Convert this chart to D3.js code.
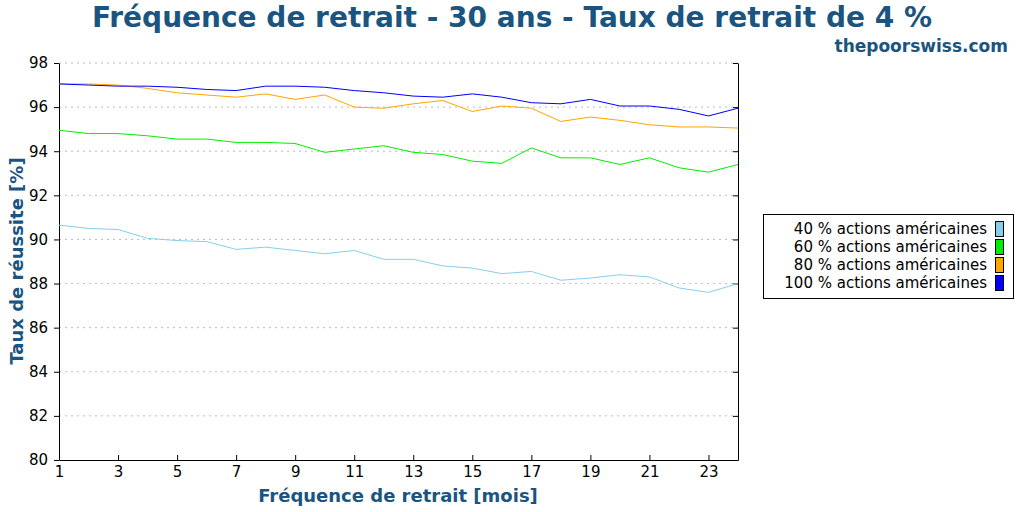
<!DOCTYPE html>
<html><head><meta charset="utf-8">
<script src="https://cdn.jsdelivr.net/npm/d3@7"></script>
<style>body{margin:0;background:#fff}text{font-family:"DejaVu Sans",sans-serif}</style>
</head><body><svg id="chart" width="1024" height="512"></svg>
<script>
const months = d3.range(1, 25);
const series40 = [90.65,90.5,90.45,90.05,89.95,89.9,89.55,89.65,89.5,89.35,89.5,89.1,89.1,88.8,88.7,88.45,88.55,88.15,88.25,88.4,88.3,87.8,87.6,88.0];
const series60 = [94.95,94.8,94.8,94.7,94.55,94.55,94.4,94.4,94.35,93.95,94.1,94.25,93.95,93.85,93.55,93.45,94.15,93.7,93.7,93.4,93.7,93.25,93.05,93.4];
const series80 = [97.05,97.05,97.0,96.85,96.65,96.55,96.45,96.6,96.35,96.55,96.0,95.95,96.15,96.3,95.8,96.05,95.95,95.35,95.55,95.4,95.2,95.1,95.1,95.05];
const series100 = [97.05,97.0,96.95,96.95,96.9,96.8,96.75,96.95,96.95,96.9,96.75,96.65,96.5,96.45,96.6,96.45,96.2,96.15,96.35,96.05,96.05,95.9,95.6,95.95];
const labels = ["40 % actions américaines","60 % actions américaines","80 % actions américaines","100 % actions américaines"];
const colors = ["#87ceeb","#00ee00","#ffa500","#0000ff"];
const xTicks = [1,3,5,7,9,11,13,15,17,19,21,23];
const yTicks = [80,82,84,86,88,90,92,94,96,98];

const svg = d3.select("#chart");
const titleColor = "#1a5480";
const x = d3.scaleLinear().domain([1, 24]).range([59, 738]);
const y = d3.scaleLinear().domain([80, 98]).range([460, 63]);

svg.append("text").attr("x", 512).attr("y", 27).attr("text-anchor", "middle")
    .attr("font-size", 28).attr("font-weight", "bold").attr("fill", titleColor)
    .text("Fréquence de retrait - 30 ans - Taux de retrait de 4 %");
svg.append("text").attr("x", 1008).attr("y", 52).attr("text-anchor", "end")
    .attr("font-size", 17).attr("font-weight", "bold").attr("fill", titleColor)
    .text("thepoorswiss.com");

// grid
svg.append("g").selectAll("line").data(yTicks.slice(1)).join("line")
    .attr("x1", 59).attr("x2", 738).attr("y1", d => y(d)).attr("y2", d => y(d))
    .attr("stroke", "#bbb").attr("stroke-dasharray", "2,4");

const gx = svg.append("g").attr("transform", "translate(0,460)")
    .call(d3.axisBottom(x).tickValues(xTicks).tickSize(-5).tickSizeOuter(0));
const gy = svg.append("g").attr("transform", "translate(59,0)")
    .call(d3.axisLeft(y).tickValues(yTicks).tickSize(5).tickSizeOuter(0));
svg.append("g").attr("transform", "translate(738,0)")
    .call(d3.axisRight(y).tickValues(yTicks).tickSize(-5).tickFormat("").tickSizeOuter(0));
[gx, gy].forEach(g => g.selectAll("text").attr("font-size", 15).attr("fill", "#000")
    .attr("font-family", "DejaVu Sans"));
gx.selectAll(".tick text").attr("dy", "0.9em");
gy.selectAll(".tick text").attr("dx", "-0.2em");

svg.append("text").attr("x", 398).attr("y", 502).attr("text-anchor", "middle")
    .attr("font-size", 18).attr("font-weight", "bold").attr("fill", titleColor)
    .text("Fréquence de retrait [mois]");
svg.append("text").attr("transform", "translate(23,261) rotate(-90)").attr("text-anchor", "middle")
    .attr("font-size", 18).attr("font-weight", "bold").attr("fill", titleColor)
    .text("Taux de réussite [%]");

const line = d3.line().x((d, i) => x(months[i])).y(d => y(d));
[series40, series60, series80, series100].forEach((s, i) => {
    svg.append("path").datum(s).attr("d", line).attr("fill", "none")
        .attr("stroke", colors[i]).attr("stroke-width", 1);
});

// legend
const lg = svg.append("g");
lg.append("rect").attr("x", 763.5).attr("y", 214.5).attr("width", 250).attr("height", 84)
    .attr("fill", "#fff").attr("stroke", "#000");
labels.forEach((l, i) => {
    const yy = 229 + i * 18;
    lg.append("text").attr("x", 987).attr("y", yy + 5).attr("text-anchor", "end")
        .attr("font-size", 15).text(l);
    lg.append("rect").attr("x", 995.5).attr("y", yy - 7.5).attr("width", 8).attr("height", 15)
        .attr("fill", colors[i]).attr("stroke", "#000");
});
</script></body></html>
